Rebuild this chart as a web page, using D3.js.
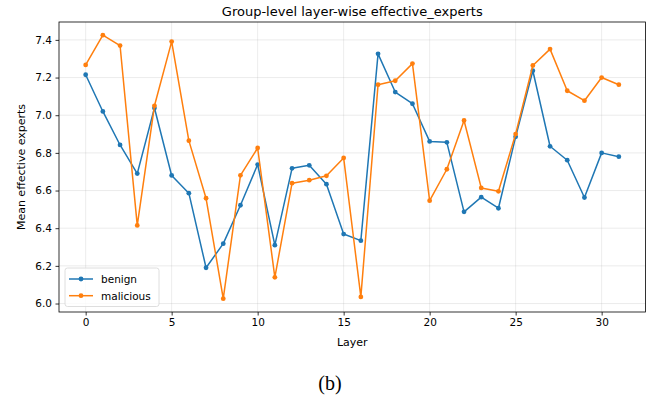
<!DOCTYPE html>
<html><head><meta charset="utf-8">
<script src="https://cdn.jsdelivr.net/npm/d3@7"></script>
<style>body{margin:0;background:#fff}svg{display:block}</style>
</head><body>
<svg id="c" width="654" height="398"></svg>
<script>
const layers = d3.range(32);
const benign = [7.215,7.020,6.842,6.690,7.038,6.680,6.586,6.190,6.318,6.522,6.738,6.310,6.718,6.734,6.634,6.369,6.334,7.326,7.123,7.061,6.861,6.856,6.487,6.565,6.506,6.885,7.236,6.835,6.761,6.563,6.800,6.780];
const malicious = [7.267,7.425,7.370,6.415,7.050,7.391,6.865,6.559,6.026,6.681,6.826,6.139,6.639,6.655,6.678,6.773,6.035,7.162,7.183,7.274,6.546,6.713,6.972,6.614,6.596,6.900,7.264,7.351,7.130,7.077,7.200,7.162];
const xTicks = [0,5,10,15,20,25,30];
const yTicks = [6.0,6.2,6.4,6.6,6.8,7.0,7.2,7.4];
const seriesNames = ["benign","malicious"];
const colors = ["#1f77b4","#ff7f0e"];

const svg = d3.select("#c");
const L=59, R=645.5, T=22, B=312;
const x = d3.scaleLinear().domain([-1.55,32.55]).range([L,R]);
const y = d3.scaleLinear().domain([5.955,7.495]).range([B,T]);
const font = "DejaVu Sans, sans-serif";

// grid
svg.append("g").selectAll("line").data(xTicks).join("line")
  .attr("x1",d=>x(d)).attr("x2",d=>x(d)).attr("y1",T).attr("y2",B)
  .attr("stroke","#b0b0b0").attr("stroke-opacity",0.3).attr("stroke-width",0.8);
svg.append("g").selectAll("line").data(yTicks).join("line")
  .attr("y1",d=>y(d)).attr("y2",d=>y(d)).attr("x1",L).attr("x2",R)
  .attr("stroke","#b0b0b0").attr("stroke-opacity",0.3).attr("stroke-width",0.8);

// axes
const xa = svg.append("g").attr("transform",`translate(0,${B})`)
  .call(d3.axisBottom(x).tickValues(xTicks).tickFormat(d3.format("d")).tickSize(3.5).tickPadding(3.5));
const ya = svg.append("g").attr("transform",`translate(${L},0)`)
  .call(d3.axisLeft(y).tickValues(yTicks).tickFormat(d3.format(".1f")).tickSize(3.5).tickPadding(3.5));
[xa,ya].forEach(a=>{a.select(".domain").remove();
  a.selectAll("text").attr("font-family",font).attr("font-size",10.5).attr("fill","#000");
  a.selectAll("line").attr("stroke","#000").attr("stroke-width",0.8);});

// frame
svg.append("rect").attr("x",L).attr("y",T).attr("width",R-L).attr("height",B-T)
  .attr("fill","none").attr("stroke","#000").attr("stroke-width",0.8);

// series
const data = [benign, malicious];
const line = d3.line().x((d,i)=>x(layers[i])).y(d=>y(d));
data.forEach((s,k)=>{
  const g = svg.append("g");
  g.append("path").datum(s).attr("d",line).attr("fill","none")
    .attr("stroke",colors[k]).attr("stroke-width",1.5).attr("stroke-linejoin","round");
  g.selectAll("circle").data(s).join("circle")
    .attr("cx",(d,i)=>x(layers[i])).attr("cy",d=>y(d)).attr("r",2.4).attr("fill",colors[k]);
});

// title and labels
svg.append("text").attr("x",(L+R)/2).attr("y",16).attr("text-anchor","middle")
  .attr("font-family",font).attr("font-size",13).text("Group-level layer-wise effective_experts");
svg.append("text").attr("x",(L+R)/2).attr("y",346).attr("text-anchor","middle")
  .attr("font-family",font).attr("font-size",11).text("Layer");
svg.append("text").attr("transform",`translate(25,${(T+B)/2}) rotate(-90)`).attr("text-anchor","middle")
  .attr("font-family",font).attr("font-size",11).text("Mean effective experts");
svg.append("text").attr("x",330).attr("y",390).attr("text-anchor","middle")
  .attr("font-family","Liberation Serif, Times New Roman, serif").attr("font-size",20).text("(b)");

// legend
const lg = svg.append("g").attr("transform","translate(65,268)");
lg.append("rect").attr("width",94).attr("height",38.5).attr("rx",2.5)
  .attr("fill","#fff").attr("fill-opacity",0.8).attr("stroke","#d5d5d5").attr("stroke-width",0.8);
seriesNames.forEach((n,k)=>{
  const yy = 11+k*16.7;
  lg.append("line").attr("x1",4).attr("x2",28).attr("y1",yy).attr("y2",yy)
    .attr("stroke",colors[k]).attr("stroke-width",1.5);
  lg.append("circle").attr("cx",16).attr("cy",yy).attr("r",2.4).attr("fill",colors[k]);
  lg.append("text").attr("x",36).attr("y",yy+3.8).attr("font-family",font).attr("font-size",10.5).text(n);
});
</script>
</body></html>
